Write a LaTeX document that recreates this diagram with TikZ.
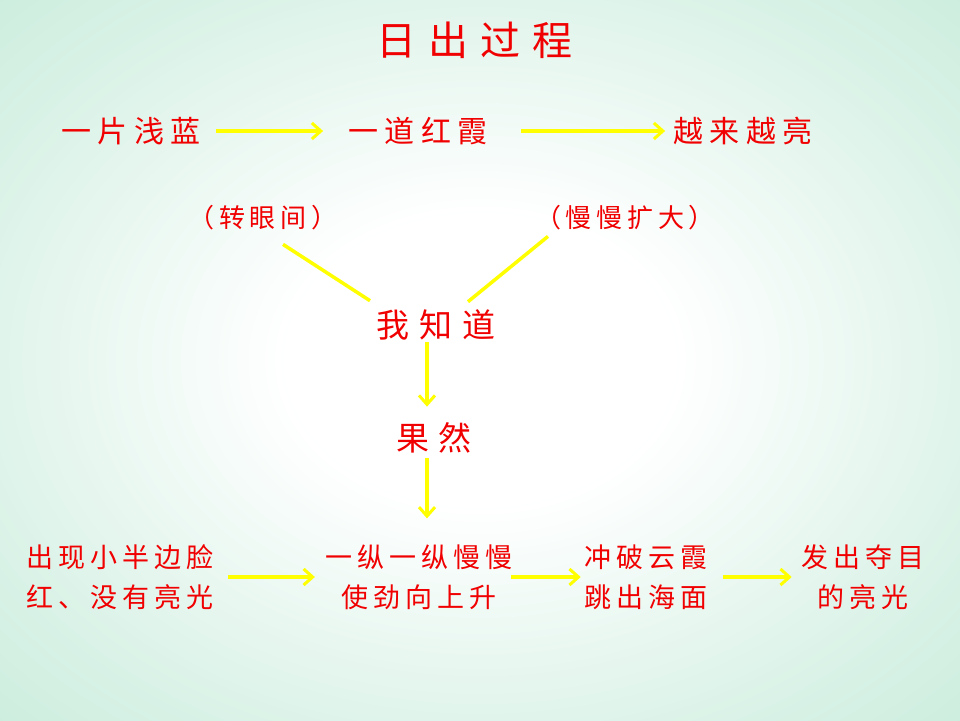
\documentclass[tikz,border=0pt]{standalone}
\usepackage{fontspec}
\usetikzlibrary{arrows.meta,calc}
\newfontfamily\cjkT[LetterSpace=30]{Noto Sans CJK SC}
\newfontfamily\cjkM[LetterSpace=22]{Noto Sans CJK SC}
\newfontfamily\cjkP[LetterSpace=18]{Noto Sans CJK SC}
\newfontfamily\cjkB[LetterSpace=18]{Noto Sans CJK SC}
\definecolor{bgmid}{RGB}{218,242,231}
\definecolor{bgedge}{RGB}{180,229,207}
\definecolor{bgout}{RGB}{162,221,196}
\definecolor{txtred}{RGB}{240,0,0}
\definecolor{arrowyel}{RGB}{255,255,0}
\pgfdeclareradialshading{bgsh}{\pgfpoint{0bp}{0bp}}{color(0bp)=(white); color(10bp)=(white); color(28bp)=(bgmid); color(50bp)=(bgedge); color(71bp)=(bgout)}
\tikzset{
  lbl/.style={text=txtred, inner sep=0pt, outer sep=0pt},
  title/.style={lbl, font=\cjkT\fontsize{40}{48}\selectfont},
  mainlbl/.style={lbl, font=\cjkM\fontsize{30}{36}\selectfont},
  paren/.style={lbl, font=\cjkP\fontsize{26}{30}\selectfont},
  biglbl/.style={lbl, font=\cjkT\fontsize{33}{40}\selectfont},
  botlbl/.style={lbl, align=center, font=\cjkB\fontsize{27}{40}\selectfont},
  flow/.style={draw=arrowyel, line width=3.5pt, -{Straight Barb[length=9pt,width=16pt,line width=3pt]}},
  plain/.style={draw=arrowyel, line width=3.5pt}
}
\begin{document}
\begin{tikzpicture}[x=1pt,y=-1pt]
\useasboundingbox (0,0) rectangle (960,720);
\shade[shading=bgsh] (0,0) rectangle (960,720);
\node[title] (t) at (474,40) {日出过程};
\node[mainlbl] (a1) at (131,131) {一片浅蓝};
\node[mainlbl] (a2) at (418,131) {一道红霞};
\node[mainlbl] (a3) at (743,131) {越来越亮};
\node[paren] (p1) at (263,218) {（转眼间）};
\node[paren] (p2) at (625,218) {（慢慢扩大）};
\node[biglbl] (k) at (436,325) {我知道};
\node[biglbl] (g) at (434,438) {果然};
\node[botlbl] (b1) at (120,577) {出现小半边脸\\红、没有亮光};
\node[botlbl] (b2) at (419,577) {一纵一纵慢慢\\使劲向上升};
\node[botlbl] (b3) at (646,577) {冲破云霞\\跳出海面};
\node[botlbl] (b4) at (863,577) {发出夺目\\的亮光};
\draw[flow] ($(a1.east)+(15,0)$) -- ($(a2.west)+(-25,0)$);
\draw[flow] ($(a2.east)+(33,0)$) -- ($(a3.west)+(-8,0)$);
\draw[plain] ($(p1.south)+(20,14)$) -- ($(k.north)+(-66,-9)$);
\draw[plain] ($(p2.south)+(-77,6)$) -- ($(k.north)+(32,-8)$);
\draw[flow] ($(k.south)+(-9,2)$) -- ($(g.north)+(-7,-16)$);
\draw[flow] ($(g.south)+(-7,5)$) -- ($(g.south)+(-7,65)$);
\draw[flow] ($(b1.east)+(15,0)$) -- ($(b2.west)+(-11,0)$);
\draw[flow] ($(b2.east)+(-1,0)$) -- ($(b3.west)+(-4,0)$);
\draw[flow] ($(b3.east)+(16,0)$) -- ($(b4.west)+(-10,0)$);
\end{tikzpicture}
\end{document}
